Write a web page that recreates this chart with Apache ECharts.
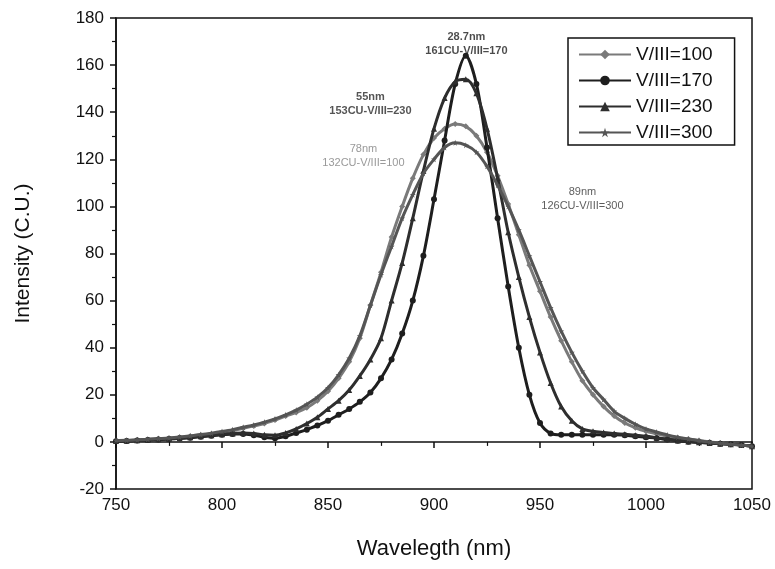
<!DOCTYPE html>
<html lang="en">
<head>
    <meta charset="UTF-8">
    <title>PL spectra V/III</title>
    <style>
        html, body { margin: 0; padding: 0; background: #fff; }
        #main { width: 775px; height: 569px; }
    </style>
    <script src="https://cdn.jsdelivr.net/npm/echarts@6/dist/echarts.min.js"></script>
</head>
<body>
<div id="main"></div>
<script type="text/javascript">
    // wavelength (nm), 5 nm steps
    var wavelengths = [750,755,760,765,770,775,780,785,790,795,800,805,810,815,820,825,830,835,840,845,
        850,855,860,865,870,875,880,885,890,895,900,905,910,915,920,925,930,935,940,945,
        950,955,960,965,970,975,980,985,990,995,1000,1005,1010,1015,1020,1025,1030,1035,1040,1045,1050];

    var v100 = [0.5,0.6,0.8,1.0,1.3,1.6,2.0,2.4,2.9,3.4,4.0,4.8,5.8,6.8,7.8,9.3,11,12.5,14.5,17.5,
        21.5,27,34,44,58,72,87,100,112,122,129,133,135,134,130,123,113,101,88,75,
        64,53,43,34,26,20,15,11,8,6,4.5,3.5,2.5,1.8,1.2,0.6,0,-0.5,-0.9,-1.3,-1.7];
    var v170 = [0.3,0.4,0.6,0.8,1.0,1.2,1.5,1.8,2.2,2.6,3.0,3.4,3.4,2.8,2.0,1.6,2.4,3.8,5.2,7.0,
        9.0,11.5,14,17,21,27,35,46,60,79,103,128,152,164,152,125,95,66,40,20,
        8,3.6,3.0,3.0,3.0,3.0,3.0,3.0,2.8,2.4,2.0,1.6,1.0,0.5,0.1,-0.2,-0.5,-0.8,-1.0,-1.3,-1.8];
    var v230 = [0.4,0.5,0.7,0.9,1.1,1.3,1.6,2.0,2.4,2.8,3.2,3.6,3.8,3.6,3.0,2.8,3.8,5.5,7.8,10.5,
        14,17.5,22,28,35,44,60,76,95,115,133,146,153,154,148,133,112,89,70,53,
        38,25,15,9,5.5,4.5,4.0,3.6,3.2,2.8,2.4,1.8,1.2,0.6,0.2,-0.2,-0.5,-0.8,-1.0,-1.3,-1.8];
    var v300 = [0.6,0.7,0.9,1.1,1.4,1.7,2.1,2.6,3.1,3.7,4.4,5.2,6.2,7.2,8.4,9.8,11.5,13.5,16,19,
        23,28.5,35.5,45,58,71,83,95,105,114,120,125,127,126,123,117,109,100,90,79,
        68,57,47,38,30,23,18,13,10,7.5,5.5,4.2,3.0,2.0,1.2,0.5,-0.1,-0.6,-1.0,-1.4,-1.8];

    var seriesNames = ['V/III=100', 'V/III=170', 'V/III=230', 'V/III=300'];

    // annotations: position in data units + text
    var annoX = [915.3, 870, 866.7, 970];
    var annoY = [169, 143.6, 121.3, 103];
    var annoText = ['28.7nm\n161CU-V/III=170', '55nm\n153CU-V/III=230', '78nm\n132CU-V/III=100', '89nm\n126CU-V/III=300'];

    var xTicks = [750, 1050, 50];
    var yTicks = [-20, 180, 20];

    function pairs(vals) {
        var out = [];
        for (var i = 0; i < wavelengths.length; i++) {
            out.push([wavelengths[i], vals[i]]);
        }
        return out;
    }

    var star = 'path://M50,0 L61,35 L98,35 L68,57 L79,91 L50,70 L21,91 L32,57 L2,35 L39,35 Z';
    var colors = ['#7a7a7a', '#1e1e1e', '#2e2e2e', '#555555'];
    var symbols = ['diamond', 'circle', 'triangle', star];
    var allVals = [v100, v170, v230, v300];

    var series = [];
    // draw the wide gray curves first so the dark ones sit on top
    [0, 3, 2, 1].forEach(function (k) {
        series.push({
            name: seriesNames[k],
            type: 'line',
            smooth: 0.3,
            data: pairs(allVals[k]),
            symbol: symbols[k],
            symbolSize: 6,
            showAllSymbol: true,
            itemStyle: { color: colors[k] },
            lineStyle: { color: colors[k], width: 3 },
            z: 2 + k
        });
    });

    var annoData = [];
    for (var i = 0; i < annoX.length; i++) {
        annoData.push({ value: [annoX[i], annoY[i]], name: annoText[i] });
    }
    var annoColors = ['#1e1e1e', '#2a2a2a', '#808080', '#333333'];
    var annoWeights = ['bold', 'bold', 'normal', 'normal'];
    series.push({
        name: 'notes',
        type: 'scatter',
        symbolSize: 0,
        silent: true,
        data: annoData.map(function (d, i) {
            d.label = { color: annoColors[i], fontWeight: annoWeights[i] };
            return d;
        }),
        label: {
            show: true,
            position: [0, 0],
            align: 'center',
            verticalAlign: 'middle',
            formatter: function (p) { return p.name; },
            fontFamily: 'Liberation Sans',
            fontSize: 11,
            lineHeight: 14
        },
        z: 10
    });

    var myChart = echarts.init(document.getElementById('main'));
    var option = {
        animation: false,
        backgroundColor: '#fff',
        textStyle: { fontFamily: 'Liberation Sans' },
        grid: {
            left: 116, right: 23, top: 18, bottom: 80,
            show: true, borderColor: '#111', borderWidth: 1.5, backgroundColor: 'transparent'
        },
        legend: {
            data: seriesNames,
            orient: 'vertical',
            left: 568,
            top: 38,
            borderColor: '#111',
            borderWidth: 1.5,
            padding: [7, 22, 3, 10],
            itemGap: 7,
            itemWidth: 52,
            itemHeight: 12,
            textStyle: { fontSize: 19, color: '#111', fontFamily: 'Liberation Sans' }
        },
        xAxis: {
            type: 'value',
            min: xTicks[0], max: xTicks[1], interval: xTicks[2],
            name: 'Wavelegth (nm)',
            nameLocation: 'middle',
            nameGap: 49,
            nameTextStyle: { fontSize: 22, color: '#111' },
            axisLine: { lineStyle: { color: '#111', width: 1.5 } },
            axisTick: { length: 6, lineStyle: { color: '#111', width: 1.5 } },
            minorTick: { show: true, splitNumber: 2, length: 4, lineStyle: { color: '#111', width: 1.2 } },
            splitLine: { show: false },
            axisLabel: { fontSize: 17, color: '#111', margin: 8, formatter: function (v) { return String(v); } }
        },
        yAxis: {
            type: 'value',
            min: yTicks[0], max: yTicks[1], interval: yTicks[2],
            name: 'Intensity (C.U.)',
            nameLocation: 'middle',
            nameGap: 82,
            nameTextStyle: { fontSize: 21, color: '#111' },
            axisLine: { lineStyle: { color: '#111', width: 1.5 } },
            axisTick: { length: 6, lineStyle: { color: '#111', width: 1.5 } },
            minorTick: { show: true, splitNumber: 2, length: 4, lineStyle: { color: '#111', width: 1.2 } },
            splitLine: { show: false },
            axisLabel: { fontSize: 17, color: '#111', margin: 12 }
        },
        series: series
    };
    myChart.setOption(option);
</script>
</body>
</html>
